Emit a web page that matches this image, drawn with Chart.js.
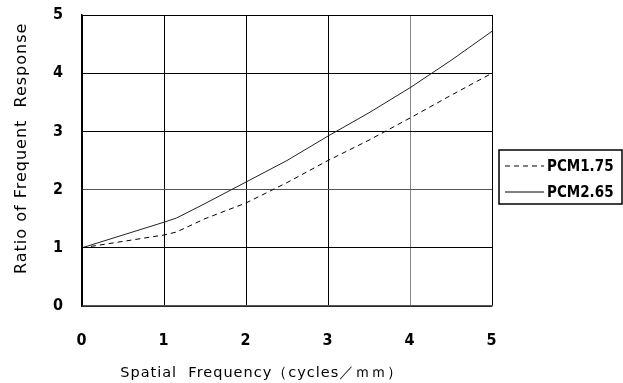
<!DOCTYPE html>
<html>
<head>
<meta charset="utf-8">
<script src="https://cdn.jsdelivr.net/npm/chart.js@4/dist/chart.umd.min.js"></script>
<style>
  html, body { margin: 0; padding: 0; background: #fff; }
  #wrap { width: 623px; height: 383px; position: relative; }
</style>
</head>
<body>
<div id="wrap"><canvas id="c"></canvas></div>
<script>
// spatial frequency (cycles/mm)
const freq = [0, 0.5, 1, 1.15, 1.5, 2, 2.5, 3, 3.5, 4, 4.5, 5];
const pcm175 = [1, 1.11, 1.22, 1.27, 1.5, 1.77, 2.12, 2.5, 2.85, 3.23, 3.62, 4.0];
const pcm265 = [1, 1.22, 1.44, 1.51, 1.76, 2.13, 2.5, 2.92, 3.32, 3.75, 4.22, 4.72];
const seriesNames = ["PCM1.75", "PCM2.65"];
const xTicks = [0, 1, 2, 3, 4, 5];
const yTicks = [0, 1, 2, 3, 4, 5];

const tickFont = { family: "DejaVu Sans Condensed", size: 16, weight: "bold" };

function pts(vals) {
  return freq.map((x, i) => ({ x: x, y: vals[i] }));
}

// wide letter spacing like the original figure's font
const spacing = {
  id: "spacing",
  beforeDraw(chart) { chart.ctx.letterSpacing = "1px"; }
};

// legend drawn as a boxed key at the right side
const boxLegend = {
  id: "boxLegend",
  afterDraw(chart) {
    const ctx = chart.ctx;
    const x0 = 499, y0 = 150, w = 123, h = 54;
    ctx.save();
    ctx.letterSpacing = "0px";
    ctx.fillStyle = "#fff";
    ctx.fillRect(x0, y0, w, h);
    ctx.strokeStyle = "#000";
    ctx.lineWidth = 1.5;
    ctx.strokeRect(x0, y0, w, h);
    chart.data.datasets.forEach((ds, i) => {
      const y = y0 + 16 + i * 26;
      ctx.beginPath();
      ctx.setLineDash(ds.borderDash || []);
      ctx.lineWidth = 1;
      ctx.strokeStyle = "#000";
      ctx.moveTo(x0 + 6, y);
      ctx.lineTo(x0 + 45, y);
      ctx.stroke();
      ctx.setLineDash([]);
      ctx.fillStyle = "#000";
      ctx.font = "bold 15px 'DejaVu Sans Condensed'";
      ctx.textBaseline = "middle";
      ctx.fillText(ds.label, x0 + 48, y + 1);
    });
    ctx.restore();
  }
};

new Chart(document.getElementById("c"), {
  type: "line",
  data: {
    datasets: [
      {
        label: seriesNames[0],
        data: pts(pcm175),
        borderColor: "#000",
        borderWidth: 1,
        borderDash: [5, 4],
        pointRadius: 0,
        tension: 0,
      },
      {
        label: seriesNames[1],
        data: pts(pcm265),
        borderColor: "#222",
        borderWidth: 1,
        pointRadius: 0,
        tension: 0,
      },
    ],
  },
  options: {
    responsive: true,
    maintainAspectRatio: false,
    animation: false,
    layout: { padding: { top: 15, right: 131, left: 0, bottom: 0 } },
    plugins: { legend: { display: false }, tooltip: { enabled: false } },
    scales: {
      x: {
        type: "linear",
        min: 0,
        max: 5,
        afterBuildTicks(scale) {
          scale.ticks = xTicks.map(v => ({ value: v }));
        },
        afterFit(scale) { scale.height = 77; },
        grid: {
          color: ctx => (ctx.tick && ctx.tick.value === 4 ? "#888" : "#000"),
          lineWidth: 1,
          drawTicks: false,
        },
        border: { color: "#555", width: 1.5 },
        ticks: { font: tickFont, color: "#000", padding: 25 },
        title: {
          display: true,
          text: "Spatial  Frequency（cycles／ｍｍ）         ",
          font: { family: "DejaVu Sans", size: 14.5 },
          color: "#000",
          padding: { top: 0, bottom: 1 },
        },
      },
      y: {
        min: 0,
        max: 5,
        afterBuildTicks(scale) {
          scale.ticks = yTicks.map(v => ({ value: v }));
        },
        afterFit(scale) { scale.width = 82; },
        grid: {
          color: ctx => (ctx.tick && ctx.tick.value === 2 ? "#555" : "#000"),
          lineWidth: 1,
          drawTicks: true,
          tickLength: 18,
          tickColor: "rgba(0,0,0,0)",
        },
        border: { color: "#000", width: 1.5 },
        ticks: { font: tickFont, color: "#000", padding: 0 },
        title: {
          display: true,
          text: "    Ratio of Frequent  Response",
          font: { family: "DejaVu Sans", size: 16 },
          color: "#000",
          padding: { top: 12, bottom: 0 },
        },
      },
    },
  },
  plugins: [spacing, boxLegend],
});
</script>
</body>
</html>
